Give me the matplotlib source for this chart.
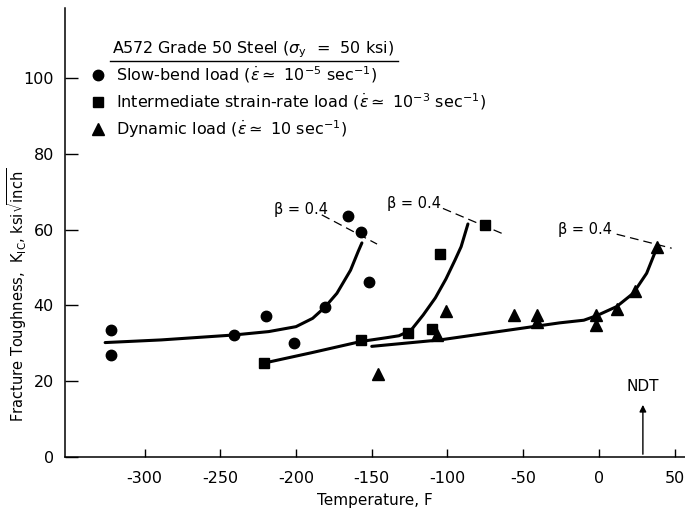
import numpy as np
import matplotlib
matplotlib.use("Agg")
import matplotlib.pyplot as plt
from matplotlib.lines import Line2D

plt.rcParams["font.family"] = ["DejaVu Sans"]
plt.rcParams["mathtext.fontset"] = "dejavusans"
plt.rcParams["axes.unicode_minus"] = False

# measured points (temperature F, K_IC ksi sqrt(inch))
slow_T = [-322, -322, -241, -220, -201, -181, -166, -157, -152]
slow_K = [33.5, 26.9, 32.2, 37.2, 30.2, 39.5, 63.7, 59.3, 46.3]

inter_T = [-221, -157, -126, -110, -105, -75]
inter_K = [24.7, 30.9, 32.8, 33.9, 53.7, 61.2]

dyn_T = [-146, -107, -101, -56, -41, -41, -2, -2, 12, 24, 38]
dyn_K = [21.9, 32.2, 38.6, 37.5, 37.5, 35.7, 37.6, 34.8, 39.0, 43.9, 55.3]

# faired curves
slow_curve_T = [-326, -289, -241, -218, -200, -189, -181, -173, -164, -159, -156.5]
slow_curve_K = [30.2, 30.9, 32.2, 33.1, 34.4, 36.6, 39.5, 43.2, 49.3, 54.2, 56.5]

inter_curve_T = [-221, -190, -157, -140, -132, -124, -116, -108, -101, -95, -91, -86.5]
inter_curve_K = [24.8, 27.5, 30.5, 31.5, 32.0, 33.5, 37.5, 42.0, 47.0, 52.0, 55.5, 61.5]

dyn_curve_T = [-150, -105, -26, -10, -1.5, 11.7, 22.6, 31.5, 38]
dyn_curve_K = [29.2, 30.9, 35.4, 36.1, 37.3, 39.7, 43.2, 48.5, 55.0]

# beta = 0.4 dashed limits
beta_lines = [([-183, -146.5], [63.9, 56.2]),
              ([-103, -64], [65.6, 59.0]),
              ([11.7, 48], [58.8, 55.1])]
beta_labels = [(-197, 65.3), (-122, 67.0), (-9, 60.1)]

ndt_T = 29

fig = plt.figure(figsize=(6.85, 5.15), dpi=100)
ax = fig.add_axes([65/685, 58/515, 620/685, 449/515])

ax.plot(slow_curve_T, slow_curve_K, color="black", lw=2.2, solid_capstyle="round")
ax.plot(inter_curve_T, inter_curve_K, color="black", lw=2.2, solid_capstyle="round")
ax.plot(dyn_curve_T, dyn_curve_K, color="black", lw=2.2, solid_capstyle="round")

for xs, ys in beta_lines:
    ax.plot(xs, ys, color="black", lw=0.9, dashes=(7, 4))
for x, y in beta_labels:
    ax.text(x, y, "β = 0.4", fontsize=10.5, ha="center", va="center")

h1, = ax.plot(slow_T, slow_K, "o", color="black", ms=7.5, ls="none",
              label=r"Slow-bend load ($\dot{\epsilon} \simeq$ 10$^{-5}$ sec$^{-1}$)")
h2, = ax.plot(inter_T, inter_K, "s", color="black", ms=7, ls="none",
              label=r"Intermediate strain-rate load ($\dot{\epsilon} \simeq$ 10$^{-3}$ sec$^{-1}$)")
h3, = ax.plot(dyn_T, dyn_K, "^", color="black", ms=8, ls="none",
              label=r"Dynamic load ($\dot{\epsilon} \simeq$ 10 sec$^{-1}$)")

ax.annotate("", xy=(ndt_T, 14.5), xytext=(ndt_T, 0),
            arrowprops=dict(arrowstyle="-|>", color="black", lw=1.0, mutation_scale=10))
ax.text(ndt_T, 18.6, "NDT", fontsize=11, ha="center", va="center")

ax.set_xlim(-352.5, 56.8)
ax.set_ylim(0, 118.5)
ax.set_xticks(np.arange(-300, 51, 50))
ax.set_yticks(np.arange(0, 101, 20))
ax.spines["top"].set_visible(False)
ax.spines["right"].set_visible(False)
ax.spines["left"].set_linewidth(1.1)
ax.spines["bottom"].set_linewidth(1.1)
ax.tick_params(axis="x", direction="in", length=6, width=1.0, pad=10, labelsize=11.5)
ax.tick_params(axis="y", direction="in", length=9, width=1.0, pad=8, labelsize=11.5)

ax.set_xlabel("Temperature, F", fontsize=11, labelpad=5)
ax.set_ylabel(r"Fracture Toughness,  K$_{\rm IC}$, ksi$\sqrt{\rm inch}$", fontsize=10.5)
ax.yaxis.set_label_coords(-0.058, 0.36)

fig.text(112/685, 1 - 53/515, r"A572 Grade 50 Steel ($\sigma_{\rm y}$  =  50 ksi)", fontsize=11.5, va="baseline")
fig.add_artist(Line2D([110/685, 398/685], [1 - 61/515, 1 - 61/515], color="black", lw=1.0))

ax.legend(handles=[h1, h2, h3], loc="upper left", bbox_to_anchor=(90/685, 1 - 64/515),
          bbox_transform=fig.transFigure, frameon=False, fontsize=11.5,
          handlelength=1.0, handletextpad=0.6, borderpad=0, borderaxespad=0,
          labelspacing=0.4)

fig.savefig("out.png", dpi=100)
